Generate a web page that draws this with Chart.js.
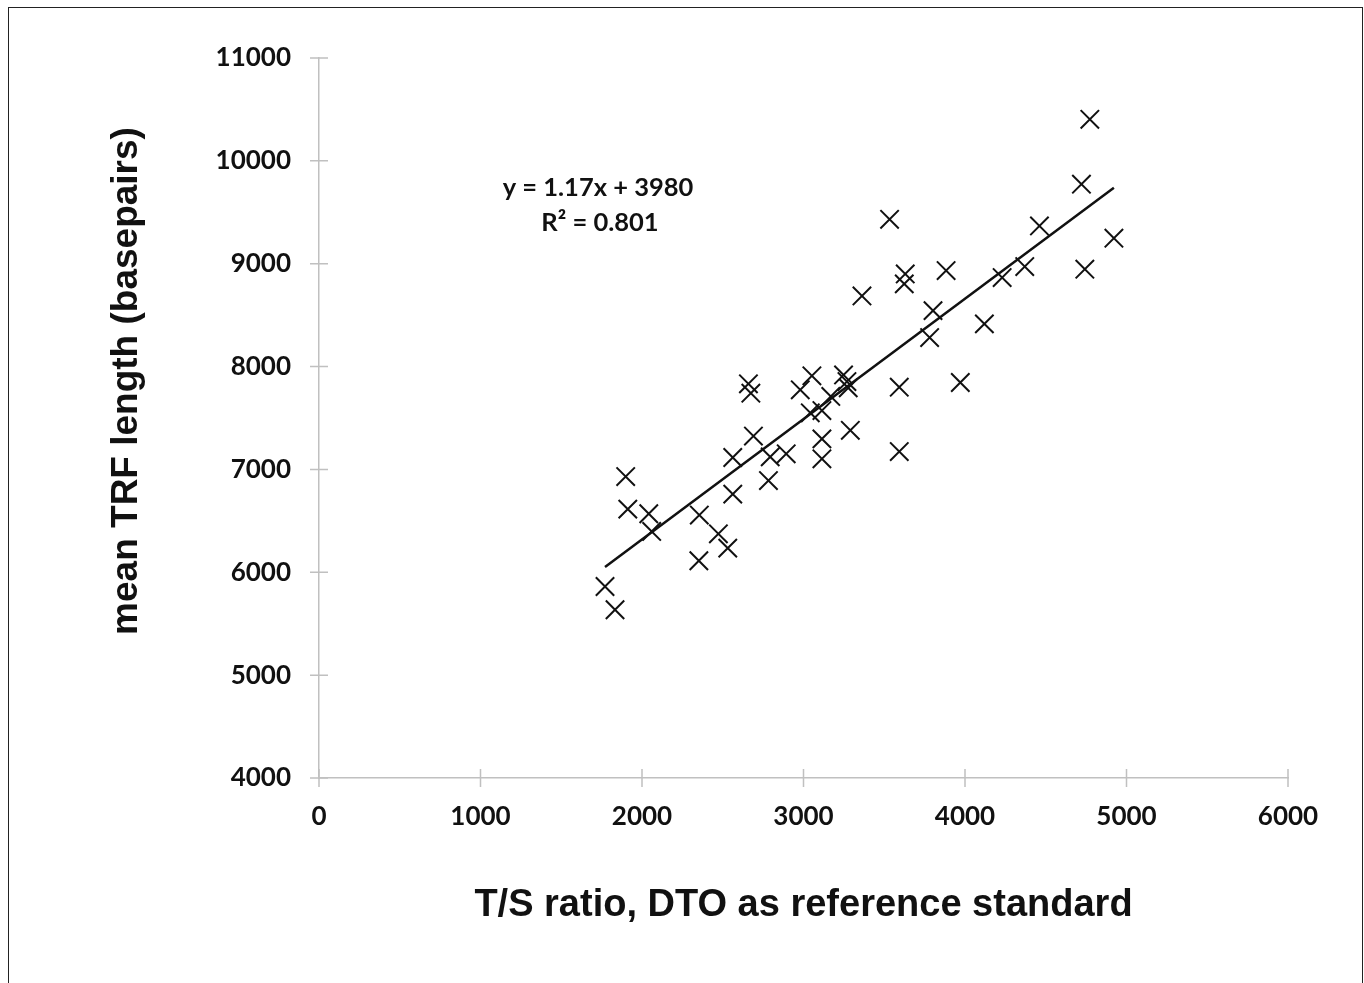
<!DOCTYPE html>
<html>
<head>
<meta charset="utf-8">
<title>mean TRF length vs T/S ratio</title>
<script src="https://cdn.jsdelivr.net/npm/chart.js@4.4.1/dist/chart.umd.min.js"></script>
<style>
  body { margin: 0; background: #fff; overflow: hidden; }
  #frame { position: absolute; left: 8px; top: 7px; width: 1353px; height: 1000px; border: 1.5px solid #222; }
  #chart { position: absolute; left: 0; top: 0; }
</style>
</head>
<body>
<div id="frame"></div>
<canvas id="chart" width="1364" height="983"></canvas>
<script>
// T/S ratio (x) and mean TRF length in bp (y)
const tsRatio = [1771, 1833, 1899, 1912, 2042, 2060, 2355, 2352, 2473, 2531,
                 2562, 2562, 2690, 2783, 2794, 2893, 2659, 2674, 2980, 3052,
                 3169, 3042, 3114, 3114, 3114, 3248, 3269, 3277, 3290, 3362,
                 3533, 3593, 3593, 3630, 3624, 3781, 3802, 3883, 3971, 4120,
                 4230, 4370, 4461, 4721, 4742, 4773, 4922];
const trfLength = [5862, 5636, 6931, 6614, 6569, 6397, 6556, 6112, 6374, 6235,
                   7116, 6760, 7324, 6892, 7122, 7152, 7832, 7741, 7774, 7910,
                   7710, 7550, 7572, 7297, 7103, 7919, 7854, 7793, 7380, 8687,
                   9432, 7800, 7174, 8901, 8804, 8282, 8544, 8933, 7845, 8415,
                   8865, 8972, 9367, 9773, 8947, 10404, 9248];

// linear trendline as printed on the chart
const slope = 1.17;
const intercept = 3980;
const eqLines = ["y = 1.17x + 3980", "R\u00B2 = 0.801"];

const xTitle = "T/S ratio, DTO as reference standard";
const yTitle = "mean TRF length (basepairs)";

const tickFont = { family: "Lato", size: 26, weight: "bold" };

var points = [];
for (let i = 0; i < tsRatio.length; i++) {
  points.push({ x: tsRatio[i], y: trfLength[i] });
}
const xMin = Math.min(...tsRatio), xMax = Math.max(...tsRatio);
const trend = [
  { x: xMin, y: slope * xMin + intercept },
  { x: xMax, y: slope * xMax + intercept }
];

// ticks that cross the axis line, plus titles and the equation
const extras = {
  id: "extras",
  afterDraw(chart) {
    const ctx = chart.ctx;
    const xs = chart.scales.x, ys = chart.scales.y;
    const ax = xs.getPixelForValue(0), ay = ys.getPixelForValue(4000);
    ctx.save();
    ctx.strokeStyle = "#c0c0c0";
    ctx.lineWidth = 1.5;
    ctx.beginPath();
    xs.ticks.forEach(t => {
      const px = xs.getPixelForValue(t.value);
      ctx.moveTo(px, ay - 9); ctx.lineTo(px, ay + 9);
    });
    ys.ticks.forEach(t => {
      const py = ys.getPixelForValue(t.value);
      ctx.moveTo(ax - 9, py); ctx.lineTo(ax + 9, py);
    });
    ctx.stroke();

    ctx.fillStyle = "#111";
    ctx.font = "bold 38px 'Liberation Sans', Arial, sans-serif";
    ctx.textAlign = "center";
    ctx.textBaseline = "alphabetic";
    ctx.fillText(xTitle, (chart.chartArea.left + chart.chartArea.right) / 2, 916);

    ctx.font = "bold 37px 'Liberation Sans', Arial, sans-serif";
    ctx.save();
    ctx.translate(137, 381);
    ctx.rotate(-Math.PI / 2);
    ctx.fillText(yTitle, 0, 0);
    ctx.restore();

    ctx.font = "bold 25.5px Lato, sans-serif";
    ctx.textBaseline = "middle";
    ctx.fillText(eqLines[0], 598, 188);
    ctx.fillText(eqLines[1], 600, 223);
    ctx.restore();
  }
};

new Chart(document.getElementById("chart"), {
  type: "scatter",
  data: {
    datasets: [{
      label: "TRF",
      data: points,
      pointStyle: "crossRot",
      pointRadius: 13,
      pointHoverRadius: 13,
      borderColor: "#111",
      backgroundColor: "#111",
      pointBorderWidth: 2,
      order: 2
    }, {
      label: "trend",
      type: "line",
      data: trend,
      showLine: true,
      borderColor: "#111",
      borderWidth: 2.5,
      pointRadius: 0,
      fill: false,
      order: 1
    }]
  },
  options: {
    responsive: false,
    animation: false,
    layout: { padding: { left: 0, top: 58, right: 76, bottom: 0 } },
    plugins: { legend: { display: false }, tooltip: { enabled: false } },
    scales: {
      x: {
        type: "linear",
        min: 0, max: 6000,
        afterFit(s) { s.height = 205; },
        ticks: { stepSize: 1000, color: "#111", font: tickFont, padding: 23,
                 callback: v => String(v) },
        grid: { drawOnChartArea: false, drawTicks: false },
        border: { display: true, color: "#c0c0c0", width: 1.5 }
      },
      y: {
        type: "linear",
        min: 4000, max: 11000,
        afterFit(s) { s.width = 319; },
        ticks: { stepSize: 1000, color: "#111", font: tickFont, padding: 28,
                 callback: v => String(v) },
        grid: { drawOnChartArea: false, drawTicks: false },
        border: { display: true, color: "#c0c0c0", width: 1.5 }
      }
    }
  },
  plugins: [extras]
});
</script>
</body>
</html>
